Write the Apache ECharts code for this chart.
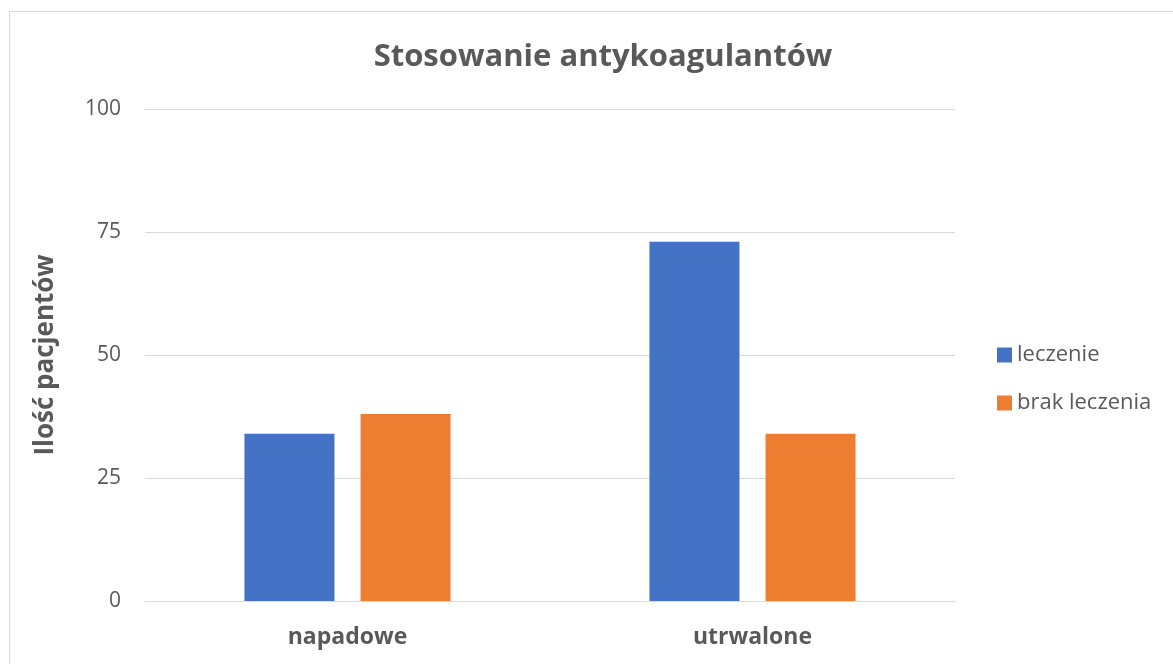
<!DOCTYPE html>
<html>
<head>
<meta charset="utf-8">
<script src="https://cdn.jsdelivr.net/npm/echarts@6/dist/echarts.min.js"></script>
<style>
  html, body { margin: 0; padding: 0; background: #fff; }
  #chart { width: 1173px; height: 664px; }
</style>
</head>
<body>
<div id="chart"></div>
<script>
const categories = ['napadowe', 'utrwalone'];
const leczenie = [34, 73];
const brakLeczenia = [38, 34];
const yTicks = [0, 25, 50, 75, 100];

const textColor = '#595959';
const font = '"Open Sans", "Noto Sans", sans-serif';

const chart = echarts.init(document.getElementById('chart'), null, { renderer: 'canvas' });
chart.setOption({
  backgroundColor: '#ffffff',
  animation: false,
  textStyle: { fontFamily: font, color: textColor },
  graphic: [{
    type: 'rect',
    shape: { x: 9.5, y: 11.5, width: 1200, height: 700 },
    style: { fill: 'none', stroke: '#d9d9d9', lineWidth: 1 },
    silent: true,
    z: -1
  }],
  title: {
    text: 'Stosowanie antykoagulantów',
    left: 598,
    textAlign: 'center',
    top: 37,
    textStyle: { fontFamily: font, fontSize: 31, fontWeight: 'bold', color: textColor }
  },
  legend: {
    orient: 'vertical',
    left: 997,
    top: 344,
    padding: 0,
    itemWidth: 15,
    itemHeight: 15,
    itemGap: 26,
    itemTextGap: 5,
    icon: 'rect',
    textStyle: { fontFamily: font, fontSize: 22, color: textColor },
    data: ['leczenie', 'brak leczenia']
  },
  grid: { left: 145, right: 218, top: 109, bottom: 63 },
  xAxis: {
    type: 'category',
    data: categories,
    axisLine: { show: true, lineStyle: { color: '#d9d9d9', width: 1 } },
    axisTick: { show: false },
    axisLabel: { fontFamily: font, fontSize: 23, fontWeight: 'bold', color: textColor, margin: 25 }
  },
  yAxis: {
    type: 'value',
    min: yTicks[0],
    max: yTicks[yTicks.length - 1],
    interval: 25,
    name: 'Ilość pacjentów',
    nameLocation: 'middle',
    nameGap: 86,
    nameRotate: 90,
    nameTextStyle: { fontFamily: font, fontSize: 26, fontWeight: 'bold', color: textColor },
    axisLine: { show: false },
    axisTick: { show: false },
    axisLabel: { fontFamily: font, fontSize: 21, color: textColor, margin: 24 },
    splitLine: { lineStyle: { color: '#d9d9d9', width: 1 } }
  },
  series: [
    {
      name: 'leczenie',
      type: 'bar',
      data: leczenie,
      barWidth: 90,
      barGap: '29%',
      itemStyle: { color: '#4472c4' }
    },
    {
      name: 'brak leczenia',
      type: 'bar',
      data: brakLeczenia,
      barWidth: 90,
      itemStyle: { color: '#ed7d31' }
    }
  ]
});
</script>
</body>
</html>
